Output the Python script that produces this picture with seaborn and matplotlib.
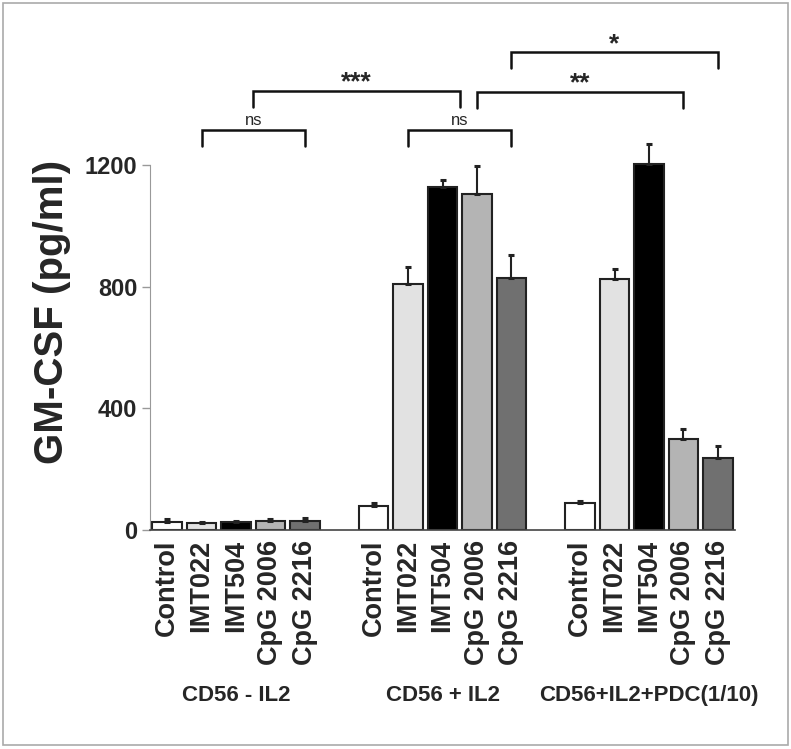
import numpy as np
import pandas as pd
import seaborn as sns
from matplotlib import pyplot as plt
from matplotlib.patches import Rectangle
from matplotlib import font_manager

# treatments and groups
treatments = ["Control", "IMT022", "IMT504", "CpG 2006", "CpG 2216"]
groups = ["CD56 - IL2", "CD56 + IL2", "CD56+IL2+PDC(1/10)"]

# mean GM-CSF (pg/ml) per group
cd56_minus_il2 = [27, 22, 26, 30, 31]
cd56_plus_il2 = [80, 809, 1127, 1104, 828]
cd56_il2_pdc = [88, 824, 1204, 299, 236]

# upper error (SEM)
err_minus_il2 = [8, 4, 4, 7, 9]
err_plus_il2 = [8, 57, 24, 93, 75]
err_il2_pdc = [7, 33, 66, 33, 41]

colors = {"Control": "#ffffff", "IMT022": "#e2e2e2", "IMT504": "#000000",
          "CpG 2006": "#b4b4b4", "CpG 2216": "#707070"}

rows = []
for g, (vals, errs) in enumerate([(cd56_minus_il2, err_minus_il2),
                                  (cd56_plus_il2, err_plus_il2),
                                  (cd56_il2_pdc, err_il2_pdc)]):
    for i, t in enumerate(treatments):
        rows.append({"pos": g * 6 + i, "treatment": t, "group": groups[g],
                     "value": vals[i], "err": errs[i]})
df = pd.DataFrame(rows)

sns.set_style("white")
plt.rcParams['font.family'] = ['Liberation Sans', 'DejaVu Sans']

# narrow face for the y tick numbers if there is one
names = {f.name for f in font_manager.fontManager.ttflist}
narrow = 'Liberation Sans Narrow' if 'Liberation Sans Narrow' in names else 'Liberation Sans'

fig = plt.figure(figsize=(7.91, 7.49), dpi=100)
ax = fig.add_axes([150 / 791, 1 - 530 / 749, 585 / 791, 502 / 749])

sns.barplot(data=df, x="pos", y="value", hue="treatment", palette=colors,
            native_scale=True, dodge=False, width=0.86, errorbar=None,
            edgecolor="#222222", linewidth=1.5, legend=False, ax=ax)

ax.errorbar(df["pos"], df["value"], yerr=[np.zeros(len(df)), df["err"]],
            fmt="none", ecolor="#222222", elinewidth=1.5, capsize=2.5,
            capthick=2.2, zorder=1)

ax.set_xlim(-0.5, 16.5)
ax.set_ylim(0, 1650)
ax.set_yticks([0, 400, 800, 1200])
ytick_size = 21 if narrow != 'Liberation Sans' else 17
ax.set_yticklabels(["0", "400", "800", "1200"], fontsize=ytick_size,
                   fontweight="bold", family=[narrow, 'DejaVu Sans'])
ax.set_xticks(df["pos"])
ax.set_xticklabels(df["treatment"], rotation=90, fontsize=19.5, fontweight="bold")
ax.tick_params(axis="x", length=0, pad=7)
ax.tick_params(axis="y", length=6, width=1, color="#999999", pad=3, left=True)
ax.set_xlabel("")
ax.set_ylabel("")

for s in ["top", "right"]:
    ax.spines[s].set_visible(False)
ax.spines["left"].set_color("#999999")
ax.spines["left"].set_bounds(0, 1200)
ax.spines["bottom"].set_color("#444444")
ax.spines["bottom"].set_linewidth(1.2)

fig.text(52 / 791, 0.584, "GM-CSF (pg/ml)", rotation=90, ha="center", va="center",
         fontsize=29, fontweight="bold")

for g, name in enumerate(groups):
    ax.text(g * 6 + 2, -0.33, name, transform=ax.get_xaxis_transform(),
            ha="center", va="center", fontsize=16, fontweight="bold")


def bracket(x1, x2, top, leg, label, size, weight, gap):
    ax.plot([x1, x1, x2, x2], [top - leg, top, top, top - leg], color="#111111",
            lw=1.8, clip_on=False, solid_joinstyle="miter")
    ax.text((x1 + x2) / 2, top + gap, label, ha="center", va="bottom",
            fontsize=size, fontweight=weight, clip_on=False)


bracket(1, 4, 1315, 53, "ns", 12, "normal", 6)
bracket(7, 10, 1315, 53, "ns", 12, "normal", 6)
bracket(2.5, 8.5, 1444, 54, "***", 19, "bold", -11)
bracket(9, 15, 1441, 54, "**", 19, "bold", -11)
bracket(10, 16, 1572, 54, "*", 19, "bold", -15)

fig.patches.append(Rectangle((3 / 791, 4 / 749), 785 / 791, 742 / 749,
                             transform=fig.transFigure, fill=False,
                             edgecolor="#aaaaaa", lw=1.2))

fig.savefig("out.png", dpi=100)
